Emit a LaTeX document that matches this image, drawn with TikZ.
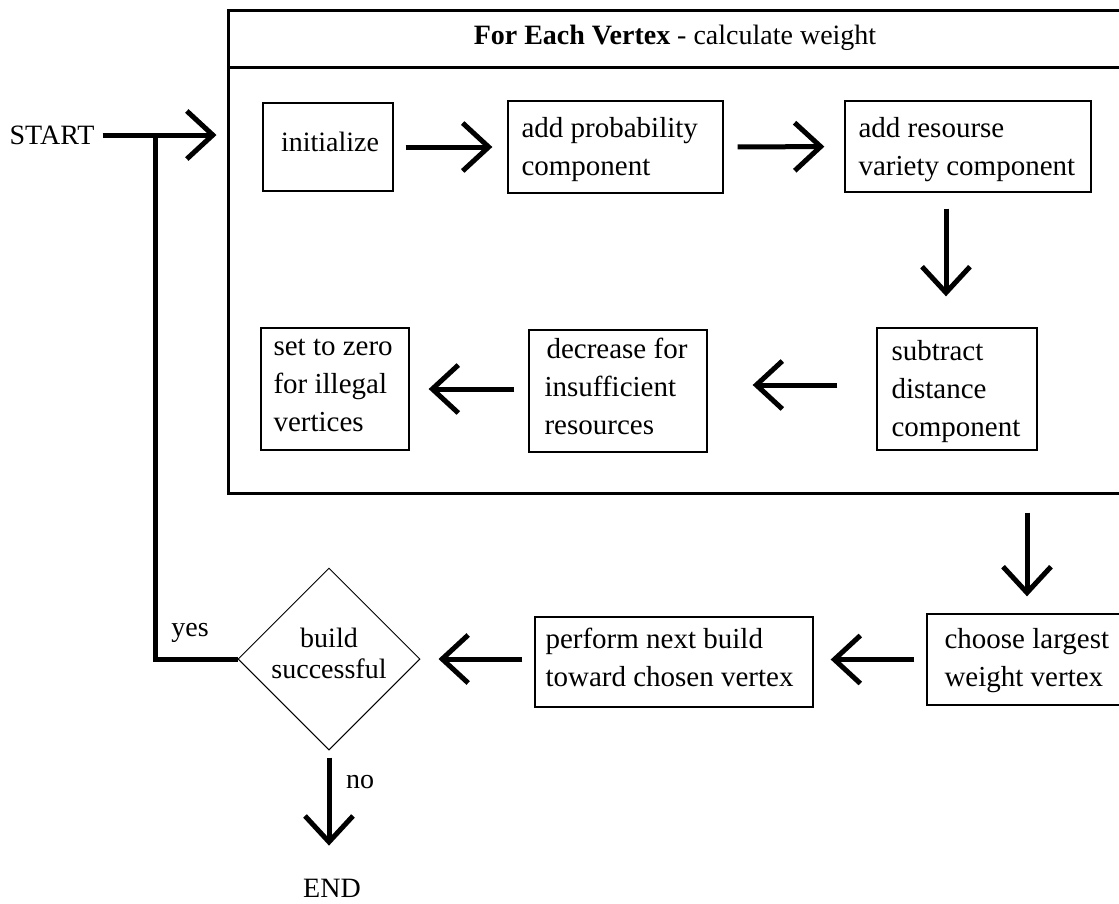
\documentclass[tikz,border=0pt]{standalone}
\usepackage{fontspec}
\setmainfont{Liberation Serif}
\usetikzlibrary{arrows.meta,shapes.geometric,calc}
\begin{document}
\begin{tikzpicture}[x=1pt,y=-1pt,
  box/.style={draw, line width=1.3pt, inner sep=0pt},
  txt/.style={font=\fontsize{28}{38}\selectfont, align=left, inner sep=0pt},
  btxt/.style={font=\fontsize{29}{38}\selectfont, align=left, inner sep=0pt, yshift=-3pt},
  arr/.style={line width=5pt, -{Straight Barb[length=26pt,width=48pt,line width=5pt]}},
  thick line/.style={line width=5pt},
]
\clip (0,0) rectangle (1119,903);
\fill[white] (0,0) rectangle (1119,903);
% outer loop box
\node[draw, line width=3pt, minimum width=912pt, minimum height=483pt, inner sep=0pt] (outer) at (684,251.5) {};
\draw[line width=3pt] (228,67) -- (1140,67);
\node[txt] (head) at (675,38) {\textbf{For Each Vertex} - calculate weight};
% inner boxes
\node[box, minimum width=130pt, minimum height=88pt] (init) at (328,147) {};
\node[txt] at (330,142) {initialize};
\node[box, minimum width=215pt, minimum height=92pt] (addprob) at (615.5,147) {};
\node[btxt, anchor=west] at ([xshift=14pt]addprob.west) {add probability\\component};
\node[box, minimum width=246pt, minimum height=91pt] (addres) at (968,146.5) {};
\node[btxt, anchor=west] at ([xshift=14pt]addres.west) {add resourse\\variety component};
\node[box, minimum width=160pt, minimum height=122pt] (subtract) at (957,389) {};
\node[btxt, anchor=west] at ([xshift=15pt]subtract.west) {subtract\\distance\\component};
\node[box, minimum width=178pt, minimum height=122pt] (decrease) at (618,391) {};
\node[btxt, anchor=west] at ([xshift=16pt,yshift=8pt]decrease.west) {\hspace{2pt}decrease for\\insufficient\\resources};
\node[box, minimum width=148pt, minimum height=122pt] (setzero) at (335,389) {};
\node[btxt, anchor=west] at ([xshift=13pt,yshift=7pt]setzero.west) {set to zero\\for illegal\\vertices};
% lower row
\node[box, minimum width=200pt, minimum height=91pt] (choose) at (1027,659.5) {};
\node[btxt, anchor=west] at ([xshift=18pt,yshift=2pt]choose.west) {choose largest\\weight vertex};
\node[box, minimum width=278pt, minimum height=90pt] (perform) at (674,662) {};
\node[btxt, anchor=west] at ([xshift=11pt,yshift=8pt]perform.west) {perform next build\\toward chosen vertex};
\node[draw, line width=1pt, diamond, aspect=1, minimum width=182pt, minimum height=182pt, inner sep=0pt] (dia) at (329,659) {};
\node[font=\fontsize{28}{31}\selectfont, align=center, inner sep=0pt] at ([yshift=6pt]dia) {build\\successful};
% terminals
\node[txt] (start) at (52,135) {START};
\node[txt] (end) at (332,888) {END};
\node[txt] (yes) at (190,633) {yes};
\node[txt] (no) at (360,782) {no};
\coordinate (join) at (155,135);
% connectors
\draw[arr, shorten <=8pt, shorten >=10pt] (start.east) -- (start.east -| outer.west);
\draw[arr, shorten <=12pt, shorten >=15pt] (init.east) -- (addprob.west);
\draw[arr, shorten <=14pt, shorten >=20pt] (addprob.east) -- (addres.west);
\draw[arr, shorten <=16pt, shorten >=31pt] ([xshift=-11pt]subtract.north |- addres.south) -- ([xshift=-11pt]subtract.north);
\draw[arr, shorten <=39pt, shorten >=45pt] ([yshift=4pt]subtract.west) -- ([yshift=4pt]subtract.west -| decrease.east);
\draw[arr, shorten <=14pt, shorten >=19pt] ([yshift=2pt]decrease.west) -- ([yshift=2pt]decrease.west -| setzero.east);
\draw[arr, shorten <=18pt, shorten >=17pt] (choose.north |- outer.south) -- (choose.north);
\draw[arr, shorten <=12pt, shorten >=17pt] (choose.west) -- (choose.west -| perform.east);
\draw[arr, shorten <=12pt, shorten >=18pt] (perform.west |- dia.east) -- (dia.east);
\draw[thick line] (dia.west) -| (join);
\draw[arr, shorten <=7pt, shorten >=33pt] (dia.south) -- (dia.south |- end.north);
\end{tikzpicture}
\end{document}
